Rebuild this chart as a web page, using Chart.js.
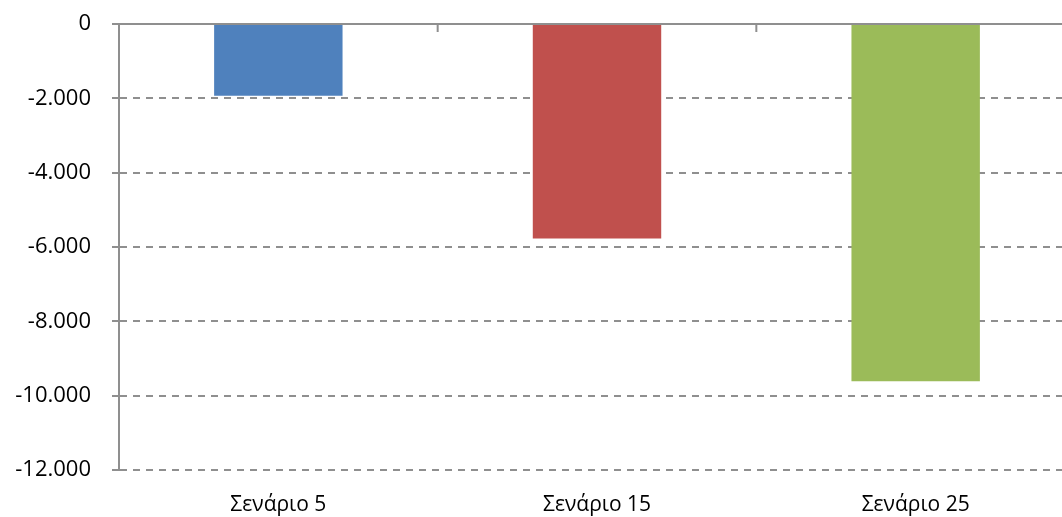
<!DOCTYPE html>
<html lang="el">
<head>
    <meta charset="UTF-8">
    <title>Σενάρια</title>
    <style>
        body {
            margin: 0;
            padding: 0;
            background-color: #fff;
            overflow: hidden;
        }
        .wrap {
            width: 1075px;
            height: 517px;
        }
    </style>
    <script src="https://cdn.jsdelivr.net/npm/chart.js"></script>
</head>
<body>
    <div class="wrap">
        <canvas id="chart"></canvas>
    </div>
    <script>
        // values
        const categories = ['Σενάριο 5', 'Σενάριο 15', 'Σενάριο 25'];
        const values = [-1930, -5770, -9610];
        const barColors = ['#4F81BD', '#C0504D', '#9BBB59'];
        const yTickValues = [0, -2000, -4000, -6000, -8000, -10000, -12000];
        const yTickLabels = ['0', '-2.000', '-4.000', '-6.000', '-8.000', '-10.000', '-12.000'];

        const gridColor = '#8f8f8f';

        // small tick marks hanging from the zero line between categories
        const categoryTicks = {
            id: 'categoryTicks',
            afterDatasetsDraw(chart) {
                const x = chart.scales.x;
                const top = chart.chartArea.top;
                const ctx = chart.ctx;
                ctx.save();
                ctx.strokeStyle = gridColor;
                ctx.lineWidth = 2;
                for (let i = 1; i <= categories.length; i++) {
                    const px = i < categories.length
                        ? (x.getPixelForValue(i - 1) + x.getPixelForValue(i)) / 2
                        : x.getPixelForValue(i - 1) + (x.getPixelForValue(1) - x.getPixelForValue(0)) / 2;
                    ctx.beginPath();
                    ctx.moveTo(px, top);
                    ctx.lineTo(px, top + 8);
                    ctx.stroke();
                }
                ctx.restore();
            }
        };

        new Chart(document.getElementById('chart'), {
            type: 'bar',
            data: {
                labels: categories,
                datasets: [{
                    data: values,
                    backgroundColor: barColors,
                    borderWidth: 0,
                    barPercentage: 0.403,
                    categoryPercentage: 1
                }]
            },
            options: {
                responsive: true,
                maintainAspectRatio: false,
                animation: false,
                layout: { padding: { top: 24, right: 0, bottom: 0, left: 0 } },
                plugins: {
                    legend: { display: false },
                    tooltip: { enabled: false }
                },
                scales: {
                    x: {
                        grid: { display: false },
                        border: { display: false },
                        ticks: {
                            color: '#000',
                            padding: 14,
                            font: { family: 'Open Sans', size: 21 }
                        },
                        afterFit(scale) { scale.height = 47; }
                    },
                    y: {
                        min: -12000,
                        max: 0,
                        afterBuildTicks(scale) {
                            scale.ticks = yTickValues.slice().reverse().map(v => ({ value: v }));
                        },
                        grid: {
                            color: gridColor,
                            lineWidth: 2,
                            tickLength: 7,
                            tickColor: gridColor
                        },
                        border: {
                            display: true,
                            color: gridColor,
                            width: 2,
                            dash: ctx => (ctx.tick && ctx.tick.value === 0) ? [] : [7, 6]
                        },
                        ticks: {
                            color: '#000',
                            padding: 21,
                            font: { family: 'Open Sans', size: 22 },
                            callback: value => yTickLabels[yTickValues.indexOf(value)]
                        },
                        afterFit(scale) {
                            scale.width = 119;
                            scale.paddingTop = 0;
                            scale.paddingBottom = 0;
                        }
                    }
                }
            },
            plugins: [categoryTicks]
        });
    </script>
</body>
</html>
